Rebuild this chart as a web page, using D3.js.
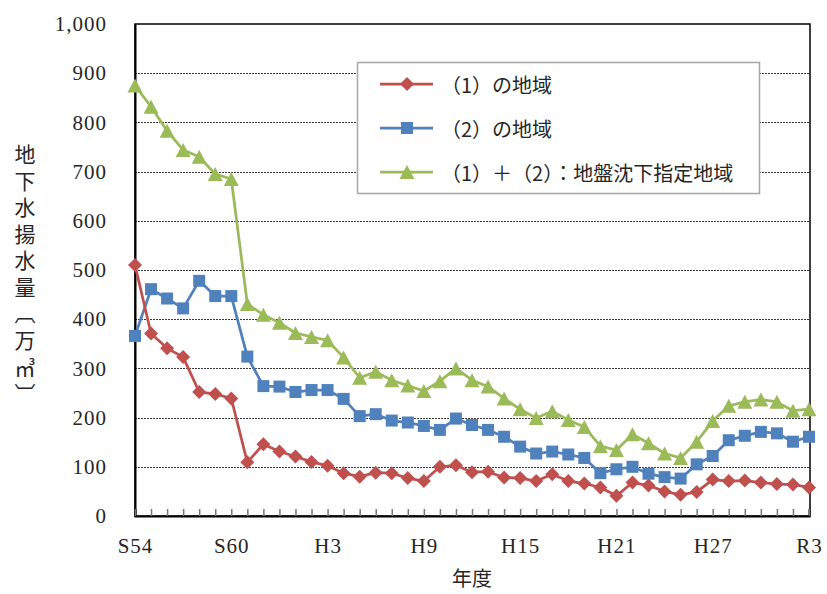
<!DOCTYPE html>
<html>
<head>
<meta charset="utf-8">
<script src="https://cdn.jsdelivr.net/npm/d3@7"></script>
<style>
  body { margin: 0; background: #fff; }
  svg { display: block; }
</style>
</head>
<body>
<svg id="chart" width="827" height="594"></svg>
<script>
// Fiscal years, Showa 54 through Reiwa 3
const years = [
  "S54","S55","S56","S57","S58","S59","S60","S61","S62","S63",
  "H1","H2","H3","H4","H5","H6","H7","H8","H9","H10",
  "H11","H12","H13","H14","H15","H16","H17","H18","H19","H20",
  "H21","H22","H23","H24","H25","H26","H27","H28","H29","H30",
  "R1","R2","R3"
];

// Groundwater pumping volume (10,000 m³)
const area1 = [
  510, 371, 341, 323, 252, 248, 239, 109, 146, 131,
  121, 110, 102, 87, 80, 88, 87, 77, 71, 100,
  103, 89, 90, 78, 77, 71, 85, 71, 66, 58,
  41, 68, 62, 50, 43, 49, 74, 71, 72, 68,
  65, 64, 58
];
const area2 = [
  366, 461, 442, 422, 478, 447, 447, 324, 264, 263,
  252, 256, 256, 238, 203, 207, 194, 190, 183, 175,
  198, 185, 175, 161, 141, 127, 131, 125, 118, 87,
  95, 100, 86, 79, 76, 105, 122, 154, 163, 171,
  168, 151, 161
];
const designated = [
  875, 832, 783, 744, 730, 695, 685, 431, 409, 393,
  372, 364, 357, 322, 281, 293, 276, 265, 254, 274,
  300, 276, 263, 239, 217, 199, 213, 195, 181, 142,
  134, 166, 148, 127, 118, 151, 193, 224, 232, 237,
  232, 214, 217
];

const yTicks = [0, 100, 200, 300, 400, 500, 600, 700, 800, 900, 1000];
const xTickLabels = ["S54", "S60", "H3", "H9", "H15", "H21", "H27", "R3"];
const seriesNames = ["（1）の地域", "（2）の地域", "（1）＋（2）：地盤沈下指定地域"];
const yTitle = "地下水揚水量〔万㎥〕";
const xTitle = "年度";

const NUM_FONT = "'Liberation Serif', 'DejaVu Serif', serif";
const JP_FONT = "'Noto Sans CJK JP', 'Noto Sans', sans-serif";
const TEXT_COLOR = "#262626";

const svg = d3.select("#chart");
const plotLeft = 135, plotRight = 809, plotTop = 24, plotBottom = 516;

const x = d3.scalePoint().domain(years).range([plotLeft, plotRight]);
const y = d3.scaleLinear().domain([0, 1000]).range([plotBottom, plotTop]);

// dotted horizontal gridlines
svg.append("g")
  .selectAll("line")
  .data(yTicks.filter(v => v > 0 && v < 1000))
  .join("line")
  .attr("x1", plotLeft).attr("x2", plotRight + 1)
  .attr("y1", d => Math.round(y(d)) + 0.5).attr("y2", d => Math.round(y(d)) + 0.5)
  .attr("stroke", "#3a3a3a")
  .attr("stroke-width", 1)
  .attr("stroke-dasharray", "2,1");

// plot frame
svg.append("rect")
  .attr("x", plotLeft).attr("y", plotTop)
  .attr("width", plotRight + 1 - plotLeft).attr("height", plotBottom - plotTop)
  .attr("fill", "none")
  .attr("stroke", "#000")
  .attr("stroke-width", 1.5);

// y axis
const yAxis = svg.append("g")
  .attr("transform", `translate(${plotLeft},0)`)
  .call(d3.axisLeft(y).tickValues(yTicks).tickFormat(d3.format(",")).tickSize(0).tickPadding(28));
yAxis.select(".domain").attr("stroke", "#000").attr("stroke-width", 2);
yAxis.selectAll("text")
  .attr("font-family", NUM_FONT)
  .attr("font-size", 21)
  .attr("letter-spacing", 1)
  .attr("fill", TEXT_COLOR);

// x axis with small inward ticks at every year
const xAxis = svg.append("g")
  .attr("transform", `translate(0,${plotBottom})`)
  .call(d3.axisBottom(x)
    .tickValues(years)
    .tickSize(-7)
    .tickPadding(22)
    .tickFormat(d => xTickLabels.includes(d) ? d : ""));
xAxis.select(".domain").attr("stroke", "#000").attr("stroke-width", 2);
xAxis.selectAll(".tick line").attr("stroke", "#777").attr("stroke-width", 1.5);
xAxis.selectAll("text")
  .attr("font-family", NUM_FONT)
  .attr("font-size", 21)
  .attr("letter-spacing", 1)
  .attr("fill", TEXT_COLOR);

// axis titles
svg.append("text")
  .attr("x", (plotLeft + plotRight) / 2).attr("y", 586)
  .attr("text-anchor", "middle")
  .attr("font-family", JP_FONT)
  .attr("font-size", 20)
  .attr("fill", TEXT_COLOR)
  .text(xTitle);

// vertical y title
svg.append("text")
  .attr("x", 25)
  .attr("y", 144)
  .style("writing-mode", "vertical-rl")
  .style("text-orientation", "upright")
  .attr("font-family", JP_FONT)
  .attr("font-size", 21)
  .attr("letter-spacing", 5.5)
  .attr("fill", TEXT_COLOR)
  .text(yTitle);

// marker shapes
const diamond = "M0,-7L7,0L0,7L-7,0Z";
const square = "M-6,-6H6V6H-6Z";
const triangle = "M0,-7L7.5,7L-7.5,7Z";

const series = [
  { name: seriesNames[0], values: area1, color: "#C0504D", marker: diamond },
  { name: seriesNames[1], values: area2, color: "#4F81BD", marker: square },
  { name: seriesNames[2], values: designated, color: "#9BBB59", marker: triangle }
];

const line = d3.line()
  .x((d, i) => x(years[i]))
  .y(d => y(d));

// draw the summed series first so the two regions sit above it
[series[2], series[1], series[0]].forEach(s => {
  const g = svg.append("g");
  g.append("path")
    .datum(s.values)
    .attr("d", line)
    .attr("fill", "none")
    .attr("stroke", s.color)
    .attr("stroke-width", 2.75)
    .attr("stroke-linejoin", "round");
  g.selectAll("path.mk")
    .data(s.values)
    .join("path")
    .attr("class", "mk")
    .attr("d", s.marker)
    .attr("transform", (d, i) => `translate(${x(years[i])},${y(d)})`)
    .attr("fill", s.color);
});

// legend
const legend = svg.append("g");
legend.append("rect")
  .attr("x", 357.5).attr("y", 62.5)
  .attr("width", 402).attr("height", 131)
  .attr("fill", "#fff")
  .attr("stroke", "#a6a6a6")
  .attr("stroke-width", 1.5);
const rowY = [84, 128, 172];
series.forEach((s, i) => {
  const r = legend.append("g").attr("transform", `translate(0,${rowY[i]})`);
  r.append("line")
    .attr("x1", 380).attr("x2", 433)
    .attr("stroke", s.color).attr("stroke-width", 2.75);
  r.append("path")
    .attr("d", s.marker)
    .attr("transform", "translate(407,0)")
    .attr("fill", s.color);
  r.append("text")
    .attr("x", 441)
    .attr("dominant-baseline", "central")
    .attr("font-family", JP_FONT)
    .attr("font-size", 20)
    .attr("fill", TEXT_COLOR)
    .text(s.name);
});
</script>
</body>
</html>
